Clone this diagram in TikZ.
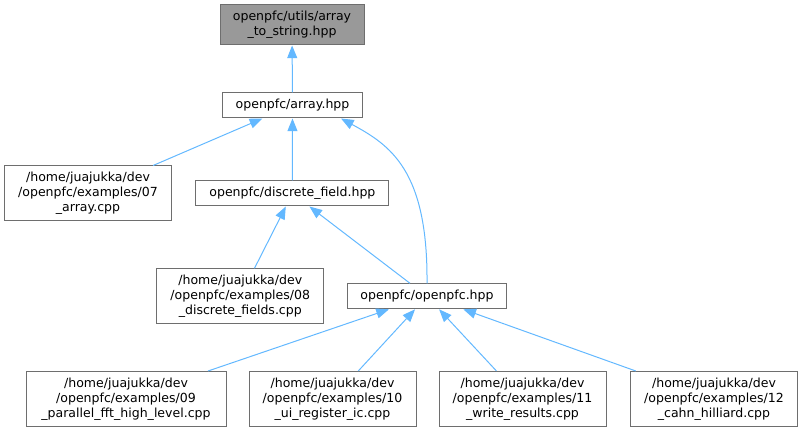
\documentclass[tikz,border=0pt]{standalone}
\usepackage{fontspec}
\setmainfont{DejaVu Sans}
\usetikzlibrary{arrows.meta}
\definecolor{boxgray}{HTML}{6E6E6E}
\definecolor{mainfill}{HTML}{999999}
\definecolor{edgeblue}{HTML}{63B8FF}
\tikzset{
  file/.style={draw=boxgray, fill=white, line width=0.75pt, align=center,
    inner sep=2pt, font=\fontsize{9.4}{11.25}\selectfont},
  twoline/.style={file, minimum height=30pt},
  oneline/.style={file, minimum height=18.75pt},
  example/.style={file, minimum width=125.25pt, minimum height=41.25pt},
  dep/.style={draw=edgeblue, line width=0.75pt, -{Triangle[length=9.5pt,width=7.5pt]}},
}

\begin{document}
\begin{tikzpicture}[x=0.75pt, y=0.75pt]
  \useasboundingbox (0,0) rectangle (803,432);
  % headers
  \node[twoline, fill=mainfill, minimum width=108pt] (tostring) at (292,407)
    {openpfc/utils/array\\\_to\_string.hpp};
  \node[oneline, minimum width=105pt] (array) at (292.5,326.5) {openpfc/array.hpp};
  \node[oneline, minimum width=144.75pt] (dfield) at (292.4,238.5) {openpfc/discrete\_field.hpp};
  \node[oneline, minimum width=119.25pt] (openpfc) at (427,135.7) {openpfc/openpfc.hpp};
  % examples
  \node[example] (ex07) at (88,238.5)
    {/home/juajukka/dev\\/openpfc/examples/07\\\_array.cpp};
  \node[example] (ex08) at (240.3,135.7)
    {/home/juajukka/dev\\/openpfc/examples/08\\\_discrete\_fields.cpp};
  \node[example, minimum width=150pt] (ex09) at (126,33)
    {/home/juajukka/dev\\/openpfc/examples/09\\\_parallel\_fft\_high\_level.cpp};
  \node[example] (ex10) at (332.5,33)
    {/home/juajukka/dev\\/openpfc/examples/10\\\_ui\_register\_ic.cpp};
  \node[example] (ex11) at (522.5,33)
    {/home/juajukka/dev\\/openpfc/examples/11\\\_write\_results.cpp};
  \node[example] (ex12) at (714,33)
    {/home/juajukka/dev\\/openpfc/examples/12\\\_cahn\_hilliard.cpp};
  % include edges
  \draw[dep] (array) -- (tostring);
  \draw[dep] (ex07) -- (array);
  \draw[dep] (dfield) -- (array);
  \draw[dep] (openpfc.north) .. controls (428,262) and (390,287) .. (array.-15);
  \draw[dep] (ex08) -- (dfield);
  \draw[dep] (openpfc) -- (dfield);
  \foreach \ex in {ex09,ex10,ex11,ex12}
    \draw[dep] (\ex) -- (openpfc);
\end{tikzpicture}
\end{document}
